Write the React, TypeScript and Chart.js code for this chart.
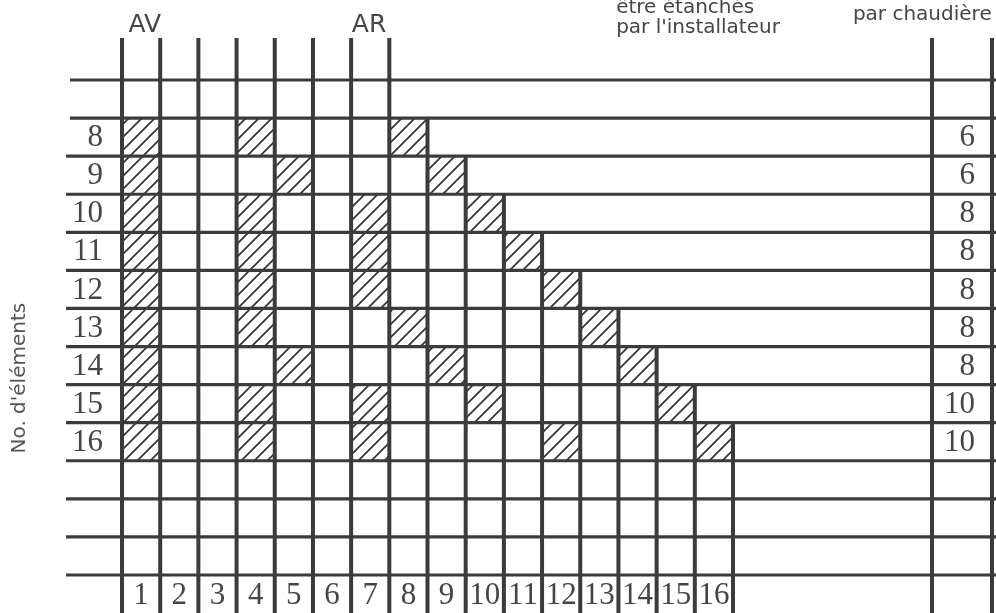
import React, { useEffect, useRef } from "react";
import { Chart, registerables } from "chart.js";

Chart.register(...registerables);

// ---------- data ----------
const rowElements = [8, 9, 10, 11, 12, 13, 14, 15, 16];
const rowLabels = ["8", "9", "10", "11", "12", "13", "14", "15", "16"];
const columnLabels = ["1", "2", "3", "4", "5", "6", "7", "8", "9", "10", "11", "12", "13", "14", "15", "16"];
// columns (1-based) that are hatched for each number of elements
const hatchedColumns: number[][] = [
  [1, 4, 8],
  [1, 5, 9],
  [1, 4, 7, 10],
  [1, 4, 7, 11],
  [1, 4, 7, 12],
  [1, 4, 8, 13],
  [1, 5, 9, 14],
  [1, 4, 7, 10, 15],
  [1, 4, 7, 12, 16],
];
const perBoilerValues = ["6", "6", "8", "8", "8", "8", "8", "10", "10"];
const headerLeftLines = ["être étanchés", "par l'installateur"];
const headerRightLines = ["par chaudière"];
const frontLabel = "AV";
const rearLabel = "AR";
const yTitle = "No. d'éléments";

// ---------- geometry (scale units) ----------
const X_MIN = -3.1948;
const X_MAX = 22.887;
const Y_MIN = 4.899;
const Y_MAX = 20.998;
const FIRST_LINE_ROW = 7; // top horizontal line
const LAST_LINE_ROW = 20; // bottom horizontal line
const COLUMN_COUNT = 16;
const POST_TOP = 5.9;
const RIGHT_COL_LINES = [21.211, 22.782];

const INK = "#3b3b3b";
const TEXT = "#454545";

function makeHatch(): CanvasPattern | string {
  const size = 13;
  const c = document.createElement("canvas");
  c.width = size;
  c.height = size;
  const g = c.getContext("2d");
  if (!g) return "rgba(0,0,0,0.2)";
  g.strokeStyle = "#333";
  g.lineWidth = 1.7;
  g.beginPath();
  g.moveTo(-2, size + 2);
  g.lineTo(size + 2, -2);
  g.moveTo(-2 - size, size + 2);
  g.lineTo(2, -2);
  g.moveTo(size - 2, size + 2);
  g.lineTo(2 * size + 2, -2);
  g.stroke();
  const p = g.createPattern(c, "repeat");
  return p || "rgba(0,0,0,0.2)";
}

const labelPlugin = {
  id: "diagramLabels",
  afterDatasetsDraw(chart: any) {
    const { ctx } = chart;
    const xs = chart.scales.x;
    const ys = chart.scales.y;
    const px = (v: number) => xs.getPixelForValue(v);
    const py = (v: number) => ys.getPixelForValue(v);
    ctx.save();

    // row labels and right values
    ctx.fillStyle = TEXT;
    ctx.font = '31px "Liberation Serif"';
    ctx.textBaseline = "middle";
    ctx.textAlign = "right";
    rowElements.forEach((r, i) => {
      ctx.fillText(rowLabels[i], px(-0.5), py(r + 0.5) + 1);
      ctx.fillText(perBoilerValues[i], px(22.337), py(r + 0.5) + 1);
    });

    // column labels
    ctx.textAlign = "center";
    columnLabels.forEach((lab, i) => {
      ctx.fillText(lab, px(i + 0.5), py(20.56));
    });

    // AV / AR
    ctx.font = '25px "DejaVu Sans"';
    ctx.textBaseline = "alphabetic";
    ctx.fillText(frontLabel, px(0.6), py(5.74));
    ctx.fillText(rearLabel, px(6.47), py(5.74));

    // headers
    ctx.font = '20px "DejaVu Sans"';
    ctx.textAlign = "left";
    headerLeftLines.forEach((t, i) => ctx.fillText(t, px(12.94), py(5.24 + i * 0.526)));
    headerRightLines.forEach((t, i) => ctx.fillText(t, px(19.14), py(5.424 + i * 0.526)));

    // y title
    ctx.save();
    ctx.translate(px(-2.67), py(14.83));
    ctx.rotate(-Math.PI / 2);
    ctx.textAlign = "center";
    ctx.textBaseline = "middle";
    ctx.fillStyle = "#555";
    ctx.font = '20px "DejaVu Sans"';
    ctx.fillText(yTitle, 0, 0);
    ctx.restore();

    ctx.restore();
  },
};

export default function App() {
  const canvasRef = useRef<HTMLCanvasElement | null>(null);

  useEffect(() => {
    const canvas = canvasRef.current;
    if (!canvas) return;
    const hatch = makeHatch();

    const lineDs = (pts: { x: number; y: number }[], width: number) => ({
      type: "line" as const,
      data: pts,
      showLine: true,
      borderColor: INK,
      borderWidth: width,
      pointRadius: 0,
      fill: false,
      tension: 0,
      borderCapStyle: "butt" as const,
      order: 1,
    });

    const datasets: any[] = [];

    // vertical posts (staircase for columns past AR)
    for (let k = 0; k <= COLUMN_COUNT; k++) {
      const top = k <= 7 ? POST_TOP : k;
      datasets.push(lineDs([{ x: k, y: top }, { x: k, y: Y_MAX }], 4));
    }
    RIGHT_COL_LINES.forEach((xv) => {
      datasets.push(lineDs([{ x: xv, y: POST_TOP }, { x: xv, y: Y_MAX }], 4));
    });

    // horizontal lines
    for (let r = FIRST_LINE_ROW; r <= LAST_LINE_ROW; r++) {
      const left = r <= 8 ? -1.362 : -1.466;
      datasets.push(lineDs([{ x: left, y: r }, { x: X_MAX, y: r }], 3.2));
    }

    // hatched cells
    rowElements.forEach((r, i) => {
      hatchedColumns[i].forEach((c) => {
        datasets.push({
          type: "line",
          data: [
            { x: c - 1, y: r },
            { x: c, y: r },
            { x: c, y: r + 1 },
            { x: c - 1, y: r + 1 },
            { x: c - 1, y: r },
          ],
          showLine: true,
          borderColor: "rgba(0,0,0,0)",
          borderWidth: 0,
          backgroundColor: hatch,
          fill: "shape",
          pointRadius: 0,
          tension: 0,
          order: 2,
        });
      });
    });

    const chart = new Chart(canvas, {
      type: "scatter",
      data: { datasets },
      options: {
        animation: false,
        responsive: false,
        events: [],
        layout: { padding: 0 },
        plugins: {
          legend: { display: false },
          tooltip: { enabled: false },
          title: { display: false },
        },
        scales: {
          x: { type: "linear", min: X_MIN, max: X_MAX, display: false },
          y: { type: "linear", min: Y_MIN, max: Y_MAX, reverse: true, display: false },
        },
      },
      plugins: [labelPlugin],
    } as any);

    return () => chart.destroy();
  }, []);

  return (
    <div style={{ position: "fixed", left: 0, top: 0, width: 996, height: 613, background: "#fff" }}>
      <canvas ref={canvasRef} width={996} height={613} style={{ display: "block" }} />
    </div>
  );
}
